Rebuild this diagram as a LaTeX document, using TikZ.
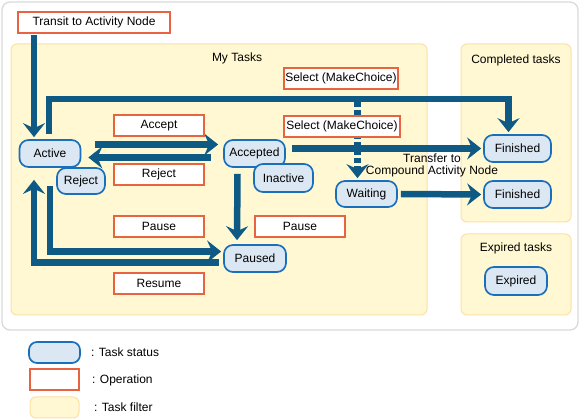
\documentclass[tikz,border=0pt]{standalone}
\usepackage{fontspec}
\setmainfont{Liberation Sans}
\usetikzlibrary{arrows.meta,calc}
\definecolor{arrblue}{HTML}{0E5A85}
\definecolor{stblue}{HTML}{1A6FBA}
\definecolor{stfill}{HTML}{DCE7F4}
\definecolor{opred}{HTML}{E8633F}
\definecolor{pfill}{HTML}{FFF8D2}
\definecolor{pborder}{HTML}{FBE1A4}
\definecolor{frame}{HTML}{DADADA}
\pgfdeclarelayer{bg}
\pgfdeclarelayer{mid}
\pgfsetlayers{bg,mid,main}
\tikzset{
  every node/.style={font=\fontsize{12}{13}\selectfont, text=black},
  status/.style={draw=stblue, fill=stfill, line width=1.7pt, rounded corners=9pt, minimum height=27pt, inner sep=0pt},
  op/.style={draw=opred, fill=white, line width=1.7pt, minimum height=21pt, inner sep=0pt},
  panel/.style={draw=pborder, fill=pfill, line width=1pt, rounded corners=6pt},
  arr/.style={draw=arrblue, line width=6.5pt, -{Stealth[length=14pt,width=22pt,inset=5pt]}},
  dotarr/.style={arr, dash pattern=on 5pt off 3pt},
}
\begin{document}
\begin{tikzpicture}[x=1pt,y=-1pt]
\useasboundingbox (0,0) rectangle (581,419);
\begin{pgfonlayer}{bg}
\draw[draw=frame, line width=1.3pt, fill=white, rounded corners=8pt] (2,2) rectangle (578,330);
\draw[panel] (11,44) rectangle (427,315);
\draw[panel] (461,44) rectangle (571,222);
\draw[panel] (461,234) rectangle (571,315);
\end{pgfonlayer}
% panel titles
\node (tMy) at (237,58) {My Tasks};
\node (tComp) at (516,60) {Completed tasks};
\node (tExp) at (516,248) {Expired tasks};
% operations
\node[op, minimum width=152pt] (Transit) at (94,22.5) {Transit to Activity Node};
\node[op, minimum width=114pt] (Sel1) at (341,78.5) {Select (MakeChoice)};
\node[op, minimum width=116pt] (Sel2) at (342,126.5) {Select (MakeChoice)};
\node[op, minimum width=90pt] (Accept) at (159,125.5) {Accept};
\node[op, minimum width=90pt] (RejectOp) at (159,174.5) {Reject};
\node[op, minimum width=90pt] (PauseL) at (159,226.5) {Pause};
\node[op, minimum width=90pt] (PauseR) at (300,226.5) {Pause};
\node[op, minimum width=90pt] (Resume) at (159,283.5) {Resume};
% statuses
\node[status, minimum width=61pt] (Active) at (50,153.5) {Active};
\node[status, minimum width=48pt, minimum height=26pt] (RejectSt) at (81,181) {Reject};
\node[status, minimum width=61pt] (Accepted) at (254.5,153.5) {Accepted};
\node[status, minimum width=59pt, minimum height=28pt] (Inactive) at (283.5,178) {Inactive};
\node[status, minimum width=61pt, minimum height=26pt] (Waiting) at (366.5,194) {Waiting};
\node[status, minimum width=62pt] (Paused) at (255,258.5) {Paused};
\node[status, minimum width=67pt] (Fin1) at (517.5,148.5) {Finished};
\node[status, minimum width=67pt] (Fin2) at (517.5,194.5) {Finished};
\node[status, minimum width=62pt, minimum height=28pt] (Expired) at (516,281) {Expired};
\node[align=center, inner sep=0pt, font=\fontsize{12}{12}\selectfont] (Transfer) at (432,165) {Transfer to\\Compound Activity Node};
% arrows
\begin{pgfonlayer}{mid}
\draw[arr] ($(Transit.south)+(-60,1)$) -- ($(Active.north)+(-16,-2)$);
\draw[arr] ($(Active.north)+(-1,-5)$) |- ($(Fin1.north)+(-9,-35)$) -- ($(Fin1.north)+(-9,-2)$);
\draw[arr] ($(Active.east)+(14,-9)$) -- ($(Accepted.west)+(-5,-9)$);
\draw[arr] ($(Accepted.west)+(-12,4)$) -- ($(Active.east)+(7,4)$);
\draw[arr] ($(Accepted.east)+(6,-5)$) -- ($(Fin1.west)+(-2,0)$);
\draw[dotarr] ($(Waiting.north)+(-9,-78)$) -- ($(Waiting.north)+(-9,-2)$);
\draw[arr] ($(Waiting.east)+(3,0)$) -- ($(Fin2.west)+(-2,0)$);
\draw[arr] ($(Accepted.south)+(-17,6)$) -- ($(Paused.north)+(-18,-4)$);
\draw[arr] ($(Active.south)+(0,18)$) |- ($(Paused.west)+(-2,-7)$);
\draw[arr] ($(Paused.west)+(-4,4)$) -| ($(Active.south)+(-16,12)$);
\end{pgfonlayer}
% legend
\node[status, minimum width=51pt, minimum height=21pt, rounded corners=8pt] (LgSt) at (54.5,352.5) {};
\node[anchor=west, inner sep=0pt] (LgStT) at (91,352) {: Task status};
\node[op, minimum width=49pt, minimum height=21pt] (LgOp) at (54.5,379.5) {};
\node[anchor=west, inner sep=0pt] (LgOpT) at (92,380) {: Operation};
\node[draw=pborder, fill=pfill, line width=1pt, rounded corners=6pt, minimum width=49pt, minimum height=21pt, inner sep=0pt] (LgF) at (54.5,407.5) {};
\node[anchor=west, inner sep=0pt] (LgFT) at (94,407) {: Task filter};
\end{tikzpicture}
\end{document}
